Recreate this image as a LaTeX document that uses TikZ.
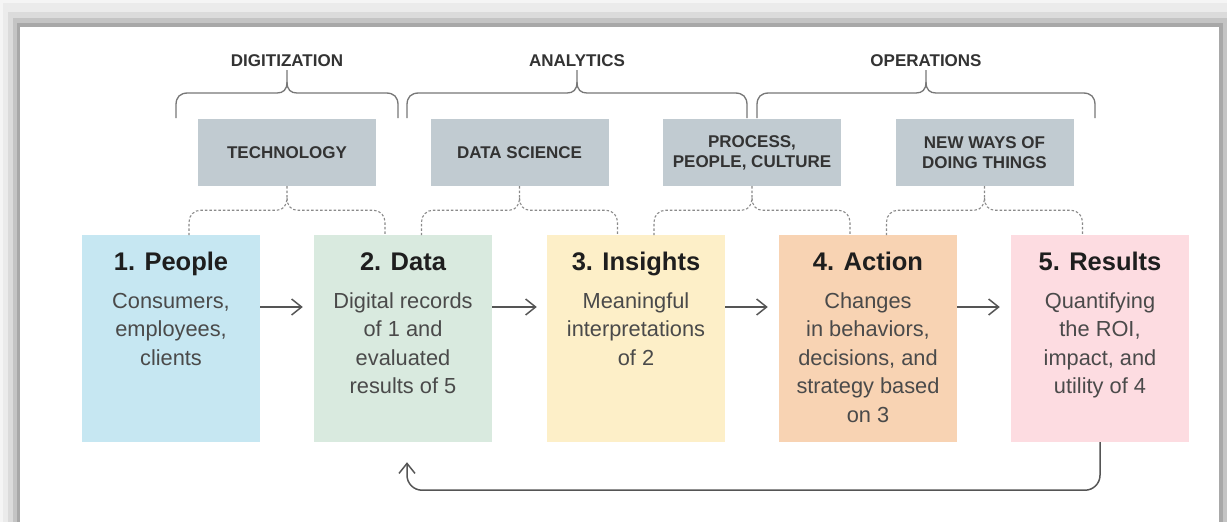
\documentclass[tikz,border=0pt]{standalone}
\usepackage{fontspec}
\setmainfont{Liberation Sans}
\usetikzlibrary{arrows.meta,calc}
\definecolor{cpeople}{HTML}{C6E7F2}
\definecolor{cdata}{HTML}{D9EADF}
\definecolor{cinsight}{HTML}{FDEFC8}
\definecolor{caction}{HTML}{F8D3B3}
\definecolor{cresult}{HTML}{FDDCE1}
\definecolor{cgraybox}{HTML}{C1CBD1}
\definecolor{ctitle}{HTML}{1E1E1E}
\definecolor{cbody}{HTML}{4A4A4A}
\definecolor{clabel}{HTML}{333333}
\definecolor{cline}{HTML}{555555}
\definecolor{cbrace}{HTML}{777777}
\definecolor{cdot}{HTML}{8A8A8A}
\newcommand\topbr[3]{%
  \draw[brc] (#1,118) -- (#1,105) .. controls (#1,97) and (#1+4,93) .. (#1+12,93) -- (#2-10,93) .. controls (#2-4,93) and (#2,90) .. (#2,82) -- (#2,70);
  \draw[brc] (#2,82) .. controls (#2,90) and (#2+4,93) .. (#2+10,93) -- (#3-12,93) .. controls (#3-4,93) and (#3,97) .. (#3,105) -- (#3,118);}
\newcommand\dotbr[1]{%
  \draw[dotb] (#1.south) -- ++(0,12) .. controls +(0,7) and +(6,0) .. ++(-10,12) -- ++(-76,0) .. controls +(-7,0) and +(0,-7) .. ++(-12,12) -- ++(0,13);
  \draw[dotb] ($(#1.south)+(0,12)$) .. controls +(0,7) and +(-6,0) .. ++(10,12) -- ++(76,0) .. controls +(7,0) and +(0,-7) .. ++(12,12) -- ++(0,13);}
\begin{document}
\begin{tikzpicture}[x=1pt,y=-1pt,
  mainbox/.style={minimum width=178pt,minimum height=207pt,inner sep=0pt,draw=none},
  graybox/.style={fill=cgraybox,minimum width=178pt,minimum height=67pt,inner sep=0pt,
    font=\fontsize{17}{20}\selectfont\bfseries,text=clabel,align=center},
  toplabel/.style={font=\fontsize{17}{20}\selectfont\bfseries,text=clabel,anchor=base},
  titletext/.style={font=\fontsize{25.5}{28}\selectfont\bfseries,text=ctitle,anchor=base},
  bodytext/.style={font=\fontsize{21.8}{28.6}\selectfont,text=cbody,align=center,anchor=base},
  arr/.style={draw=cline,line width=1.5pt,-{Straight Barb[length=10pt,width=16pt,line width=1.5pt]}},
  brc/.style={draw=cbrace,line width=1.3pt},
  dotb/.style={draw=cdot,line width=1.1pt,dash pattern=on 2.5pt off 2pt}]
\useasboundingbox (0,0) rectangle (1227,522);
% frame shadow
\fill[white!96!black] (0,0) rectangle (1227,522);
\fill[white!92!black] (3,3) rectangle (1227,522);
\fill[white!86!black] (8,12) rectangle (1227,522);
\fill[white!77!black] (13,18) rectangle (1227,522);
\fill[white!66!black] (17,23) rectangle (1223,522);
\fill[white] (20,27) rectangle (1219,522);
% top labels and braces
\node[toplabel] (lDig) at (287,66.5) {DIGITIZATION};
\node[toplabel] (lAna) at (577,66.5) {ANALYTICS};
\node[toplabel] (lOps) at (926,66.5) {OPERATIONS};
\topbr{176}{287}{398}
\topbr{407}{577}{747}
\topbr{757}{926}{1095}
% gray boxes
\node[graybox] (g1) at (287,152.5) {TECHNOLOGY};
\node[graybox] (g2) at (519.5,152.5) {DATA SCIENCE};
\node[graybox] (g3) at (752,152.5) {PROCESS,\\PEOPLE, CULTURE};
\node[graybox] (g4) at (984.5,152.5) {NEW WAYS OF\\DOING THINGS};
% main boxes
\node[mainbox,fill=cpeople] (b1) at (171,338.5) {};
\node[mainbox,fill=cdata] (b2) at (403,338.5) {};
\node[mainbox,fill=cinsight] (b3) at (636,338.5) {};
\node[mainbox,fill=caction] (b4) at (868,338.5) {};
\node[mainbox,fill=cresult] (b5) at (1100,338.5) {};
% titles
\node[titletext] (t1) at (171,270) {1. People};
\node[titletext] (t2) at (403,270) {2. Data};
\node[titletext] (t3) at (636,270) {3. Insights};
\node[titletext] (t4) at (868,270) {4. Action};
\node[titletext] (t5) at (1100,270) {5. Results};
% bodies (base = last line baseline)
\node[bodytext] (d1) at (171,365.2) {Consumers,\\employees,\\clients};
\node[bodytext] (d2) at (403,393.8) {Digital records\\of 1 and\\evaluated\\results of 5};
\node[bodytext] (d3) at (636,365.2) {Meaningful\\interpretations\\of 2};
\node[bodytext] (d4) at (868,422.4) {Changes\\in behaviors,\\decisions, and\\strategy based\\on 3};
\node[bodytext] (d5) at (1100,393.8) {Quantifying\\the ROI,\\impact, and\\utility of 4};
% dotted braces
\dotbr{g1}
\dotbr{g2}
\dotbr{g3}
\dotbr{g4}
% arrows
\draw[arr,shorten >=11pt] ($(b1.east)+(0,-31.5)$) -- ($(b2.west)+(0,-31.5)$);
\draw[arr,shorten >=10pt] ($(b2.east)+(0,-31.5)$) -- ($(b3.west)+(0,-31.5)$);
\draw[arr,shorten >=11pt] ($(b3.east)+(0,-31.5)$) -- ($(b4.west)+(0,-31.5)$);
\draw[arr,shorten >=11pt] ($(b4.east)+(0,-31.5)$) -- ($(b5.west)+(0,-31.5)$);
\draw[arr,rounded corners=15pt,shorten >=20pt] (b5.south) -- ++(0,48) -| ($(b2.south)+(4,0)$);
\end{tikzpicture}
\end{document}
